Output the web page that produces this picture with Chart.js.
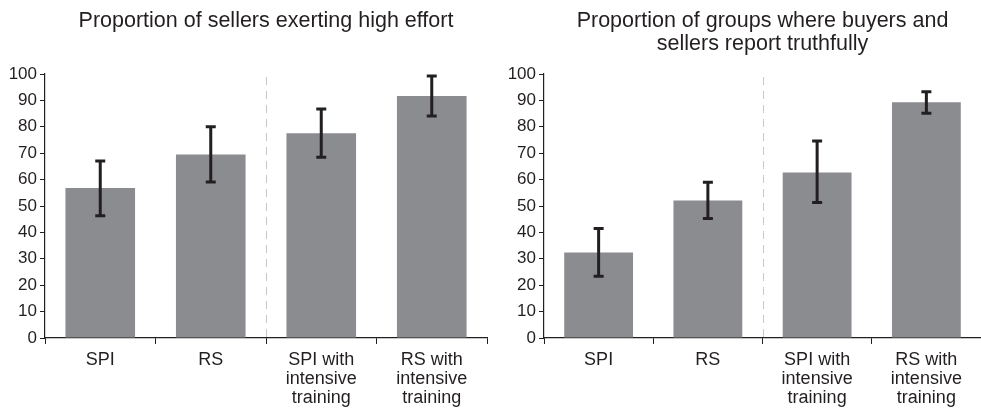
<!DOCTYPE html>
<html>
<head>
<meta charset="utf-8">
<script src="https://cdn.jsdelivr.net/npm/chart.js@4/dist/chart.umd.min.js"></script>
<style>
  html, body { margin: 0; padding: 0; background: #ffffff; }
  #wrap { position: relative; width: 981px; height: 409px; overflow: hidden; }
  canvas { position: absolute; top: 0; }
  #effort { left: 0; }
  #truth { left: 490px; }
</style>
</head>
<body>
<div id="wrap">
  <canvas id="effort" width="490" height="409"></canvas>
  <canvas id="truth" width="491" height="409"></canvas>
</div>
<script>
// Treatment groups (multi-line axis labels)
const categories = [
  ["SPI"],
  ["RS"],
  ["SPI with", "intensive", "training"],
  ["RS with", "intensive", "training"]
];
const yTicks = [0, 10, 20, 30, 40, 50, 60, 70, 80, 90, 100];

// Proportion of sellers exerting high effort (%), with error-bar bounds
const effortValues = [56.8, 69.5, 77.6, 91.7];
const effortLow    = [46.3, 59.1, 68.5, 84.1];
const effortHigh   = [67.0, 80.0, 86.7, 99.2];

// Proportion of groups where buyers and sellers report truthfully (%)
const truthValues = [32.4, 52.1, 62.7, 89.3];
const truthLow    = [23.4, 45.3, 51.3, 85.1];
const truthHigh   = [41.5, 59.0, 74.6, 93.3];

const INK = '#231f20';
const BAR = '#8b8c90';
const FONT = 'Liberation Sans, Arial, Helvetica, sans-serif';

// Error bars with flat caps, drawn through the chart's own scales
const errorBarPlugin = {
  id: 'errorBars',
  afterDatasetsDraw(chart, args, opts) {
    const { ctx, scales: { x, y } } = chart;
    ctx.save();
    ctx.strokeStyle = INK;
    ctx.lineWidth = 3;
    ctx.lineCap = 'butt';
    opts.low.forEach((lo, i) => {
      const px = x.getPixelForValue(i);
      const yl = y.getPixelForValue(lo);
      const yh = y.getPixelForValue(opts.high[i]);
      const cap = 5;
      ctx.beginPath();
      ctx.moveTo(px, yl); ctx.lineTo(px, yh);
      ctx.moveTo(px - cap, yh); ctx.lineTo(px + cap, yh);
      ctx.moveTo(px - cap, yl); ctx.lineTo(px + cap, yl);
      ctx.stroke();
    });
    ctx.restore();
  }
};

// Dashed separator between the standard and the intensive-training groups
const separatorPlugin = {
  id: 'separator',
  beforeDatasetsDraw(chart) {
    const { ctx, chartArea, scales: { x } } = chart;
    const sx = Math.round((x.getPixelForValue(1) + x.getPixelForValue(2)) / 2) + 0.5;
    ctx.save();
    ctx.strokeStyle = '#c8c8c8';
    ctx.lineWidth = 1;
    ctx.setLineDash([8, 6]);
    ctx.beginPath();
    ctx.moveTo(sx, chartArea.top + 3);
    ctx.lineTo(sx, chartArea.bottom);
    ctx.stroke();
    ctx.restore();
  }
};

function makeChart(id, title, values, low, high, yWidth, titlePad, rightPad) {
  return new Chart(document.getElementById(id), {
    type: 'bar',
    data: {
      labels: categories,
      datasets: [{
        data: values,
        backgroundColor: BAR,
        borderWidth: 0,
        categoryPercentage: 1.0,
        barPercentage: 0.63
      }]
    },
    options: {
      responsive: false,
      animation: false,
      devicePixelRatio: 1,
      layout: { padding: { left: 0, right: rightPad, top: 0, bottom: 0 } },
      plugins: {
        legend: { display: false },
        tooltip: { enabled: false },
        title: {
          display: true,
          fullSize: false,
          text: title,
          color: INK,
          font: { family: FONT, size: 21.5, weight: 'normal', lineHeight: 1.07 },
          padding: titlePad
        },
        errorBars: { low: low, high: high }
      },
      scales: {
        x: {
          offset: true,
          grid: {
            offset: true,
            drawOnChartArea: false,
            drawTicks: true,
            tickLength: 6,
            color: INK,
            lineWidth: 1
          },
          border: { display: true, color: INK, width: 1.2 },
          ticks: {
            color: INK,
            font: { family: FONT, size: 18, lineHeight: 1.05 },
            padding: 7,
            maxRotation: 0,
            autoSkip: false
          },
          afterFit(scale) { scale.height = 71; }
        },
        y: {
          min: 0,
          max: 100,
          afterBuildTicks(scale) { scale.ticks = yTicks.map(v => ({ value: v })); },
          grid: {
            drawOnChartArea: false,
            drawTicks: true,
            tickLength: 5,
            color: INK,
            lineWidth: 1
          },
          border: { display: true, color: INK, width: 1.2 },
          ticks: {
            color: INK,
            font: { family: FONT, size: 17 },
            padding: 3
          },
          afterFit(scale) { scale.width = yWidth; }
        }
      }
    },
    plugins: [separatorPlugin, errorBarPlugin]
  });
}

makeChart('effort', 'Proportion of sellers exerting high effort',
  effortValues, effortLow, effortHigh, 45, { top: 9.5, bottom: 41.5 }, 3);
makeChart('truth', ['Proportion of groups where buyers and', 'sellers report truthfully'],
  truthValues, truthLow, truthHigh, 54, { top: 9.5, bottom: 18.5 }, 0);
</script>
</body>
</html>
